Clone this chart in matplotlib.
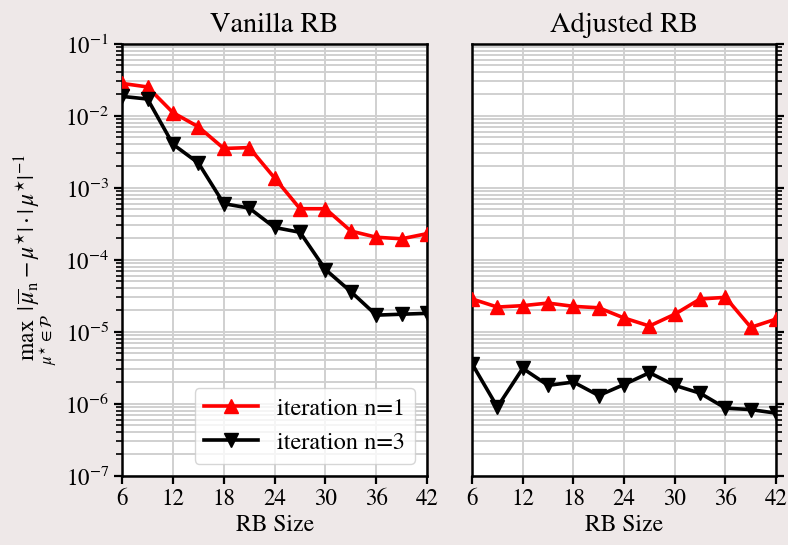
import numpy as np
import matplotlib
matplotlib.use("Agg")
import matplotlib.pyplot as plt

# ── Data ─────────────────────────────────────────────────────────────────────
rb_size = [6, 9, 12, 15, 18, 21, 24, 27, 30, 33, 36, 39, 42]

vanilla_n1 = [2.8e-2, 2.5e-2, 1.1e-2, 7.0e-3, 3.5e-3, 3.6e-3, 1.36e-3,
              5.1e-4, 5.1e-4, 2.5e-4, 2.05e-4, 1.95e-4, 2.3e-4]
vanilla_n3 = [1.85e-2, 1.7e-2, 4.0e-3, 2.2e-3, 6.0e-4, 5.2e-4, 2.8e-4,
              2.4e-4, 7.3e-5, 3.6e-5, 1.7e-5, 1.75e-5, 1.8e-5]

adjusted_n1 = [2.85e-5, 2.2e-5, 2.3e-5, 2.5e-5, 2.25e-5, 2.15e-5, 1.55e-5,
               1.2e-5, 1.75e-5, 2.85e-5, 3.0e-5, 1.15e-5, 1.5e-5]
adjusted_n3 = [3.6e-6, 9.0e-7, 3.1e-6, 1.8e-6, 2.0e-6, 1.3e-6, 1.85e-6,
               2.7e-6, 1.8e-6, 1.4e-6, 8.7e-7, 8.3e-7, 7.4e-7]

titles = ["Vanilla RB", "Adjusted RB"]
x_ticks = [6, 12, 18, 24, 30, 36, 42]

# ── Style ────────────────────────────────────────────────────────────────────
plt.rcParams["font.family"] = ["STIXGeneral", "DejaVu Serif"]
plt.rcParams["mathtext.fontset"] = "stix"
plt.rcParams["font.size"] = 16.5

BG = "#eee8e8"

fig = plt.figure(figsize=(7.88, 5.45), dpi=100, facecolor=BG)
ax_l = fig.add_axes([0.155, 0.127, 0.387, 0.793])
ax_r = fig.add_axes([0.599, 0.127, 0.386, 0.793], sharey=ax_l)

panels = [(ax_l, vanilla_n1, vanilla_n3), (ax_r, adjusted_n1, adjusted_n3)]

for ax, s1, s3 in panels:
    ax.plot(rb_size, s1, color="red", lw=2.6, marker="^", ms=10.5,
            label="iteration n=1", zorder=3)
    ax.plot(rb_size, s3, color="black", lw=2.6, marker="v", ms=10.5,
            label="iteration n=3", zorder=3)
    ax.set_yscale("log")
    ax.set_ylim(1e-7, 1e-1)
    ax.set_xlim(6, 42)
    ax.set_xticks(x_ticks)
    ax.set_xlabel("RB Size", fontsize=17, labelpad=3)
    ax.grid(which="major", color="#d0d0d0", lw=1.4)
    ax.grid(which="minor", axis="y", color="#d0d0d0", lw=1.4)
    ax.set_axisbelow(True)
    for sp in ax.spines.values():
        sp.set_linewidth(1.8)
    ax.tick_params(which="major", length=6, width=1.6, labelsize=16.5)
    ax.tick_params(which="minor", length=4, width=1.2)

ax_l.set_title(titles[0], fontsize=20.5, pad=8)
ax_r.set_title(titles[1], fontsize=20.5, pad=8)

ax_l.set_ylabel(r"$\max_{\mu^{\star}\in\mathcal{P}}\ |\,\overline{\mu}_{\mathrm{n}}-\mu^{\star}|\cdot|\,\mu^{\star}|^{-1}$",
                fontsize=17, labelpad=4)

# right panel: y ticks on the right side, no labels
ax_r.yaxis.tick_right()
ax_r.tick_params(axis="y", which="both", labelright=False, labelleft=False)

leg = ax_l.legend(loc="lower right", fontsize=17.5, framealpha=0.8,
                  edgecolor="#cccccc", borderpad=0.4, handlelength=2.2,
                  bbox_to_anchor=(1.0, 0.0))

plt.savefig("out.png", dpi=100, facecolor=BG)
